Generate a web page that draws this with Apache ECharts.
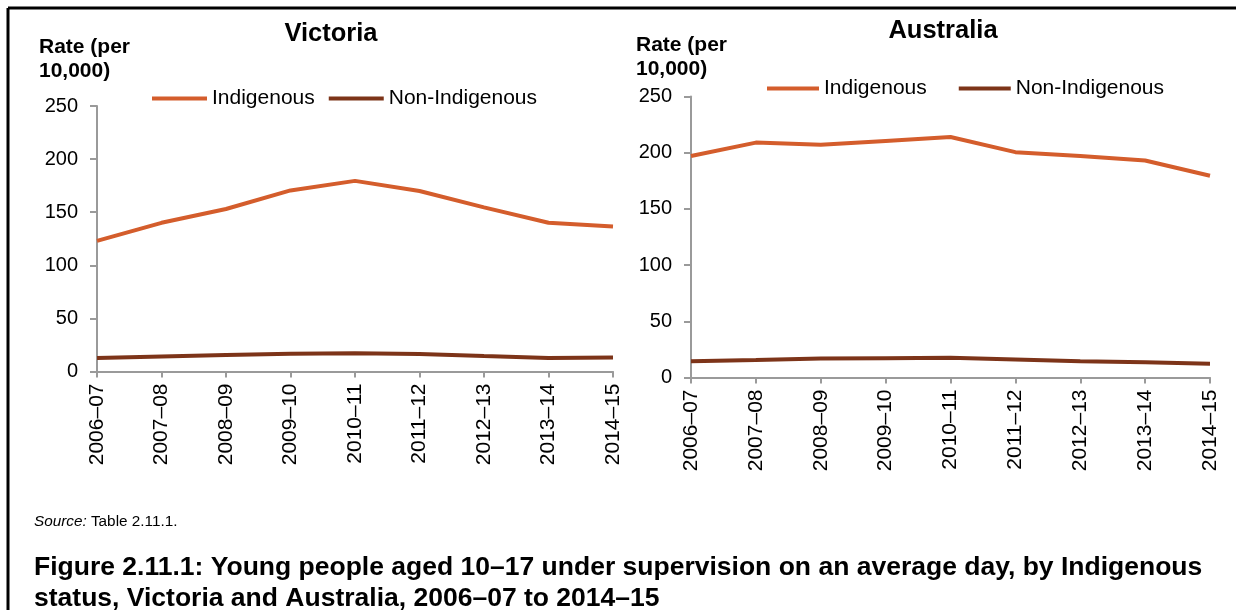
<!DOCTYPE html>
<html>
<head>
<meta charset="utf-8">
<script src="https://cdn.jsdelivr.net/npm/echarts@6/dist/echarts.min.js"></script>
<style>
html,body{margin:0;padding:0;background:#fff;}
#chart{width:1236px;height:610px;}
</style>
</head>
<body>
<div id="chart"></div>
<script>
const categories = ['2006–07','2007–08','2008–09','2009–10','2010–11','2011–12','2012–13','2013–14','2014–15'];
const vicIndigenous = [123, 140, 153, 170.5, 179.5, 170, 154.5, 140, 136.5];
const vicNonIndigenous = [12.7, 14.2, 15.5, 16.8, 17.2, 16.5, 14.5, 12.7, 13.1];
const ausIndigenous = [197, 209, 207, 210.5, 214, 200.5, 197, 193, 179.5];
const ausNonIndigenous = [14.5, 15.5, 16.8, 17.2, 17.5, 16, 14.5, 13.5, 12.3];
const yTicks = [0, 50, 100, 150, 200, 250];
const seriesNames = ['Indigenous', 'Non-Indigenous'];
const panelTitles = ['Victoria', 'Australia'];
const yAxisName = ['Rate (per', '10,000)'];
const sourceText = 'Table 2.11.1.';
const captionLines = ['Figure 2.11.1: Young people aged 10–17 under supervision on an average day, by Indigenous', 'status, Victoria and Australia, 2006–07 to 2014–15'];

const FONT = '"Liberation Sans", Arial, sans-serif';
const C_IND = '#D45D2C';
const C_NON = '#7D3419';
const AXIS_C = '#9A9A9A';

const chart = echarts.init(document.getElementById('chart'), null, {renderer: 'canvas'});

function xAxisCfg(gridIndex) {
  return {
    type: 'category', gridIndex: gridIndex, data: categories, boundaryGap: false,
    axisLine: {show: true, lineStyle: {color: AXIS_C, width: 2}},
    axisTick: {show: true, inside: false, length: 6, lineStyle: {color: AXIS_C, width: 2}},
    axisLabel: {rotate: 90, margin: 12, color: '#000', fontFamily: FONT, fontSize: 21, interval: 0},
    splitLine: {show: false}
  };
}
function yAxisCfg(gridIndex) {
  return {
    type: 'value', gridIndex: gridIndex, min: yTicks[0], max: yTicks[yTicks.length - 1], interval: yTicks[1] - yTicks[0],
    axisLine: {show: true, lineStyle: {color: AXIS_C, width: 2}},
    axisTick: {show: true, inside: false, length: 7, lineStyle: {color: AXIS_C, width: 2}},
    axisLabel: {margin: 19, color: '#000', fontFamily: FONT, fontSize: 20},
    splitLine: {show: false}
  };
}
function lineSeries(name, data, color, idx) {
  return {
    name: name, type: 'line', data: data, xAxisIndex: idx, yAxisIndex: idx,
    showSymbol: false, symbol: 'none', smooth: false,
    lineStyle: {color: color, width: 4}, itemStyle: {color: color},
    animation: false
  };
}
function legendCfg(left, top, w, gap) {
  return {
    left: left, top: top, padding: 0, data: seriesNames, icon: 'rect', itemWidth: w, itemHeight: 4, itemGap: gap,
    textStyle: {fontFamily: FONT, fontSize: 21, color: '#000'},
    selectedMode: false
  };
}
const titleFont = (size, weight, lh) => ({fontFamily: FONT, fontSize: size, fontWeight: weight, color: '#000', lineHeight: lh});

const option = {
  backgroundColor: '#fff',
  animation: false,
  title: [
    {text: panelTitles[0], left: 331, top: 19, padding: 0, textAlign: 'center', textStyle: titleFont(25.5, 'bold', 29)},
    {text: panelTitles[1], left: 943, top: 16, padding: 0, textAlign: 'center', textStyle: titleFont(25.5, 'bold', 29)},
    {text: yAxisName.join('\n'), left: 39, top: 35, padding: 0, textStyle: titleFont(21, 'bold', 24)},
    {text: yAxisName.join('\n'), left: 636, top: 33, padding: 0, textStyle: titleFont(21, 'bold', 24)},
    {text: '{i|Source:} ' + sourceText, left: 34, top: 513, padding: 0,
      textStyle: Object.assign(titleFont(15.3, 'normal', 18), {rich: {i: {fontStyle: 'italic', fontWeight: 'normal', fontFamily: FONT, fontSize: 15.3, color: '#000', lineHeight: 18}}})},
    {text: captionLines.join('\n'), left: 34, top: 552, padding: 0, textStyle: titleFont(26.5, 'bold', 31)}
  ],
  legend: [legendCfg(152, 88, 55, 14), legendCfg(767, 78, 52, 32)],
  grid: [
    {left: 97, right: 623, top: 106, bottom: 238.5, containLabel: false},
    {left: 691, right: 26, top: 96.5, bottom: 232.5, containLabel: false}
  ],
  xAxis: [xAxisCfg(0), xAxisCfg(1)],
  yAxis: [yAxisCfg(0), yAxisCfg(1)],
  series: [
    lineSeries(seriesNames[0], vicIndigenous, C_IND, 0),
    lineSeries(seriesNames[1], vicNonIndigenous, C_NON, 0),
    lineSeries(seriesNames[0], ausIndigenous, C_IND, 1),
    lineSeries(seriesNames[1], ausNonIndigenous, C_NON, 1)
  ],
  graphic: [
    {type: 'line', shape: {x1: 8, y1: 8, x2: 1236, y2: 8}, style: {stroke: '#000', lineWidth: 3}, silent: true},
    {type: 'line', shape: {x1: 8, y1: 8, x2: 8, y2: 610}, style: {stroke: '#000', lineWidth: 3}, silent: true}
  ]
};
chart.setOption(option);
</script>
</body>
</html>
